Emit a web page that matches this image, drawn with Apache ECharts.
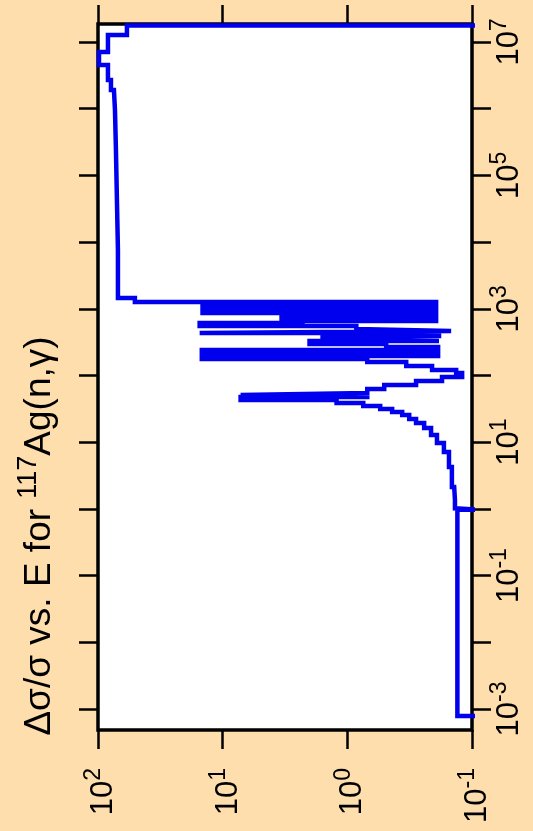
<!DOCTYPE html>
<html>
<head>
<meta charset="utf-8">
<script src="https://cdn.jsdelivr.net/npm/echarts@6/dist/echarts.min.js"></script>
<style>
html, body { margin: 0; padding: 0; background: #FFDEAD; }
#chart { width: 533px; height: 831px; }
</style>
</head>
<body>
<div id="chart"></div>
<script>
// bin edges in eV (ascending) and relative uncertainty of each bin
var energyEdges = [4.84e-4, 7.85e-4, 0.973, 1.02, 1.36, 2.13, 4.25, 7.13, 9.73, 12.8,
  16.3, 19.4, 22.3, 25.6, 28.4, 31.5, 34.9, 38.7, 43.0, 47.6,
  51.1, 54.7, 62.8, 72.1, 82.8, 95.1, 109, 121, 139, 159,
  177, 196, 217, 241, 267, 296, 329, 352, 391, 434,
  465, 498, 552, 612, 656, 703, 780, 865, 927, 1030,
  1140, 1260, 1450, 7620, 4.28e4, 2.40e5, 9.57e5, 1.91e6, 2.69e6, 4.52e6,
  7.08e6, 1.27e7, 1.77e7, 1.86e7];
var relErr = [0.088, 0.131, 0.088, 0.137, 0.139, 0.145, 0.153, 0.168, 0.191, 0.213,
  0.242, 0.281, 0.319, 0.363, 0.437, 0.545, 0.745, 1.22, 7.18, 0.692,
  7.18, 0.692, 0.506, 0.281, 0.174, 0.120, 0.134, 0.209, 0.337, 0.692,
  14.7, 0.187, 14.7, 0.187, 0.488, 2.01, 0.184, 1.58, 0.184, 15.3,
  0.147, 0.847, 15.3, 2.29, 0.194, 3.37, 0.194, 14.5, 0.194, 14.5,
  0.194, 50.6, 69.2, 70.5, 71.8, 73.1, 74.5, 78.7, 83.2, 98.2,
  83.2, 58.6, 0.088];

var errTicks = [-1, 0, 1, 2];          // powers of ten
var eTicks = [-3, -2, -1, 0, 1, 2, 3, 4, 5, 6, 7];
var eLabels = [-3, -1, 1, 3, 5, 7];
var errRange = [0.1, 100];
var eRange = [4.84e-4, 1.86e7];

var pts = [];
for (var i = 0; i < relErr.length; i++) {
  pts.push([Math.log10(relErr[i]), Math.log10(energyEdges[i])]);
  pts.push([Math.log10(relErr[i]), Math.log10(energyEdges[i + 1])]);
}

var FONT = 'Liberation Sans, Arial, sans-serif';
var tickStyle = { color: '#000', width: 2.5 };
var powRich = {
  b: { fontSize: 31, lineHeight: 31, fontFamily: FONT, color: '#000', padding: [11, 0, 0, 0] },
  s: { fontSize: 23, lineHeight: 23, fontFamily: FONT, color: '#000', verticalAlign: 'top' }
};
function pow10(v) { return '{b|10}{s|' + v + '}'; }

var chart = echarts.init(document.getElementById('chart'));
chart.setOption({
  backgroundColor: '#FFDEAD',
  animation: false,
  grid: {
    left: 98, right: 61, top: 24, bottom: 101,
    show: true, backgroundColor: '#fff', borderColor: '#000', borderWidth: 3.5
  },
  xAxis: [{
    type: 'value', position: 'bottom', inverse: true,
    min: Math.log10(errRange[0]), max: Math.log10(errRange[1]),
    axisLine: { show: false, onZero: false }, splitLine: { show: false },
    axisTick: { show: true, length: 19, lineStyle: tickStyle, customValues: errTicks },
    axisLabel: { rotate: 90, margin: 38, customValues: errTicks, formatter: pow10, rich: powRich }
  }, {
    type: 'value', position: 'top', inverse: true,
    min: Math.log10(errRange[0]), max: Math.log10(errRange[1]),
    axisLine: { show: false, onZero: false }, splitLine: { show: false },
    axisTick: { show: true, length: 19, lineStyle: tickStyle, customValues: errTicks },
    axisLabel: { show: false }
  }],
  yAxis: [{
    type: 'value', position: 'right',
    min: Math.log10(eRange[0]), max: Math.log10(eRange[1]),
    axisLine: { show: false, onZero: false }, splitLine: { show: false },
    axisTick: { show: true, length: 19, lineStyle: tickStyle, customValues: eTicks },
    axisLabel: { rotate: 90, margin: 16, customValues: eLabels, formatter: pow10, rich: powRich }
  }, {
    type: 'value', position: 'left',
    min: Math.log10(eRange[0]), max: Math.log10(eRange[1]),
    axisLine: { show: false, onZero: false }, splitLine: { show: false },
    axisTick: { show: true, length: 19, lineStyle: tickStyle, customValues: eTicks },
    axisLabel: { show: false }
  }],
  graphic: [{
    type: 'text', x: 33.5, y: 536, rotation: Math.PI / 2,
    style: {
      text: '{t|\u0394\u03c3/\u03c3 vs. E for }{s|117}{t|Ag(n,\u03b3)}',
      align: 'center', verticalAlign: 'middle',
      rich: {
        t: { fontSize: 37, lineHeight: 37, fontFamily: FONT, fill: '#000', padding: [12, 0, 0, 0] },
        s: { fontSize: 27, lineHeight: 27, fontFamily: FONT, fill: '#000', verticalAlign: 'top' }
      }
    }
  }],
  series: [{
    type: 'line', xAxisIndex: 0, yAxisIndex: 0,
    data: pts, showSymbol: false, clip: true,
    lineStyle: { color: '#0000ee', width: 4.5, join: 'miter' }
  }]
});
</script>
</body>
</html>
